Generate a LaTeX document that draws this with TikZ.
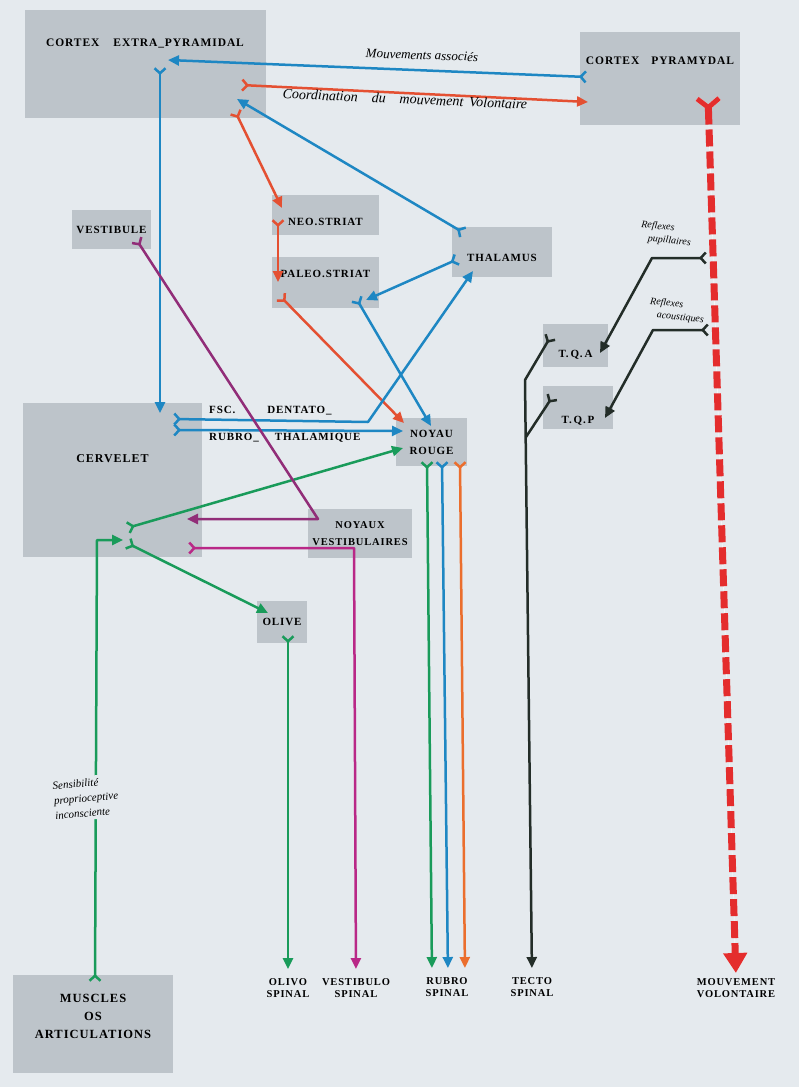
\documentclass[tikz,border=0pt]{standalone}
\usepackage{fontspec}
\setmainfont{Liberation Serif}
\newfontfamily\boxfont[LetterSpace=8]{Liberation Serif}
\usepackage{tikz}
\usetikzlibrary{arrows.meta,calc}

\definecolor{bg}{RGB}{229,234,238}
\definecolor{boxgray}{RGB}{189,196,202}
\definecolor{nblue}{RGB}{30,135,195}
\definecolor{nred}{RGB}{228,80,50}
\definecolor{norange}{RGB}{235,110,45}
\definecolor{ndash}{RGB}{228,45,45}
\definecolor{ngreen}{RGB}{25,155,90}
\definecolor{npurple}{RGB}{145,45,120}
\definecolor{nmagenta}{RGB}{185,40,135}
\definecolor{nblack}{RGB}{35,45,40}

\tikzset{
  box/.style   = {fill=boxgray, inner sep=0pt,
                  font=\boxfont\bfseries\fontsize{11}{13}\selectfont},
  boxm/.style  = {box, align=center, font=\boxfont\bfseries\fontsize{11}{17}\selectfont},
  lbl/.style   = {font=\boxfont\bfseries\fontsize{11}{13}\selectfont, inner sep=1pt},
  foot/.style  = {font=\boxfont\bfseries\fontsize{10.5}{12.5}\selectfont, align=center,
                  inner sep=1pt},
  hand/.style  = {font=\itshape\fontsize{13}{15}\selectfont, inner sep=1pt},
  small/.style = {font=\itshape\fontsize{10}{13}\selectfont, inner sep=1pt,
                  align=left},
  fib/.style   = {line width=2.5pt, line join=round},
  bl/.style    = {fib, draw=nblue},
  rd/.style    = {fib, draw=nred},
  og/.style    = {fib, draw=norange},
  gr/.style    = {fib, draw=ngreen},
  pu/.style    = {fib, draw=npurple},
  mg/.style    = {fib, draw=nmagenta},
  bk/.style    = {fib, draw=nblack},
  dsh/.style   = {draw=ndash, line width=7pt, dash pattern=on 17pt off 5pt,
                  preaction={draw=white, solid}},
  yar/.style   = {{Straight Barb[reversed,length=5pt,width=11pt]}-{Triangle[length=11pt,width=10pt]}},
  yy/.style    = {{Straight Barb[reversed,length=5pt,width=11pt]}-},
  bigy/.style  = {{Straight Barb[reversed,length=9pt,width=22pt,line width=5pt]}-{Triangle[length=20pt,width=23pt]}},
  tofoot/.style= {shorten >=8pt},
}

\begin{document}
\begin{tikzpicture}[x=1pt, y=-1pt]

% --- page ---
\fill[bg] (0,0) rectangle (799,1087);
\useasboundingbox (0,0) rectangle (799,1087);

% --- boxes ---
\node[box, minimum width=241pt, minimum height=108pt, text height=8pt, text depth=44pt,
      font=\boxfont\bfseries\fontsize{11.5}{13}\selectfont]
     (cep) at (145,64) {CORTEX\hspace{14pt}EXTRA\_PYRAMIDAL};
\node[box, minimum width=160pt, minimum height=93pt, text height=8pt, text depth=37pt,
      font=\boxfont\bfseries\fontsize{11.5}{13}\selectfont]
     (cp) at (660,78.5) {CORTEX\hspace{12pt}PYRAMYDAL};
\node[box, minimum width=79pt, minimum height=39pt] (vest) at (111.5,229.5) {VESTIBULE};
\node[box, minimum width=107pt, minimum height=40pt, text height=22pt]
     (neo) at (325.5,215) {NEO.STRIAT};
\node[box, minimum width=107pt, minimum height=51pt, text height=8pt, text depth=19pt]
     (paleo) at (325.5,282.5) {PALEO.STRIAT};
\node[box, minimum width=100pt, minimum height=50pt, text height=20pt]
     (thal) at (502,252) {THALAMUS};
\node[box, minimum width=65pt, minimum height=43pt, text height=25pt]
     (tqa) at (575.5,345.5) {T.\,Q.\,A};
\node[box, minimum width=70pt, minimum height=43pt, text height=33pt]
     (tqp) at (578,407.5) {T.\,Q.\,P};
\node[box, minimum width=179pt, minimum height=154pt, text height=8pt, text depth=44pt,
      font=\boxfont\bfseries\fontsize{12}{13}\selectfont]
     (cerv) at (112.5,480) {CERVELET};
\node[boxm, minimum width=71pt, minimum height=48pt] (nr) at (431.5,442) {NOYAU\\ROUGE};
\node[boxm, minimum width=104pt, minimum height=49pt,
      font=\boxfont\bfseries\fontsize{10.5}{17}\selectfont] (nv) at (360,533.5) {NOYAUX\\VESTIBULAIRES};
\node[box, minimum width=50pt, minimum height=42pt] (olive) at (282,622) {OLIVE};
\node[boxm, minimum width=160pt, minimum height=98pt, text height=44pt, text depth=16pt,
      font=\boxfont\bfseries\fontsize{12.5}{18}\selectfont] (musc) at (93,1024) {MUSCLES\\OS\\ARTICULATIONS};

% --- spinal outputs ---
\node[foot] (olivo)  at (288,988) {OLIVO\\SPINAL};
\node[foot] (vestsp) at (356,988) {VESTIBULO\\SPINAL};
\node[foot] (rubro)  at (447,987) {RUBRO\\SPINAL};
\node[foot] (tecto)  at (532,987) {TECTO\\SPINAL};
\node[foot] (mv)     at (736,988) {MOUVEMENT\\VOLONTAIRE};

% --- fibre ends ---
\coordinate (cep-a1) at (168,60);   \coordinate (cp-t1)  at (587,77);
\coordinate (cep-t2) at (241,85);   \coordinate (cp-a1)  at (588,102);
\coordinate (cep-t1) at (160,67);   \coordinate (cerv-a1) at (160,413);
\coordinate (cep-t3) at (235,111);  \coordinate (neo-a1) at (282,208);
\coordinate (thal-t1) at (464,233); \coordinate (cep-a2) at (237,99);
\coordinate (neo-t1) at (278,219);  \coordinate (paleo-a2) at (278,282);
\coordinate (paleo-t2) at (280,296); \coordinate (nr-a3) at (404,423);
\coordinate (thal-t2) at (458,259); \coordinate (paleo-a1) at (366,300);
\coordinate (paleo-t1) at (356,298); \coordinate (nr-a1) at (431,426);
\coordinate (cerv-t1) at (173,419); \coordinate (dent) at (368,422);
\coordinate (thal-a1) at (473,271);
\coordinate (cerv-t2) at (173,430); \coordinate (nr-a2) at (403,431);
\coordinate (cerv-t3) at (127,528); \coordinate (nr-a4) at (403,448);
\coordinate (cerv-t4) at (127,543); \coordinate (olive-a) at (268,613);
\coordinate (musc-t) at (95,982);   \coordinate (sens-b) at (97,540);
\coordinate (cerv-a2) at (123,540);
\coordinate (olive-t) at (288,635);
\coordinate (vest-t) at (136,239);  \coordinate (nv-c) at (318,519);
\coordinate (cerv-a3) at (187,519);
\coordinate (cerv-t5) at (188,548); \coordinate (nv-d) at (354,548);
\coordinate (nr-t1) at (427,461);   \coordinate (nr-t2) at (442,461);
\coordinate (nr-t3) at (460,461);
\coordinate (cp-t2) at (708,96);
\coordinate (pup-t) at (707,258);   \coordinate (pup-b) at (652,258);
\coordinate (tqa-a) at (600,353);
\coordinate (aco-t) at (709,330);   \coordinate (aco-b) at (653,330);
\coordinate (tqp-a) at (605,418);
\coordinate (tqa-t) at (551,336);   \coordinate (tecto-b) at (525,380);
\coordinate (tqp-t) at (553,396);   \coordinate (tecto-j) at (526,437);

% --- cortex links ---
\draw[bl, yar] (cp-t1) -- (cep-a1);
\draw[rd, yar] (cep-t2) -- (cp-a1);
\draw[dsh, bigy, shorten >=4pt] (cp-t2) -- (mv.north);
\draw[bl, yar] (cep-t1) -- (cerv-a1);

% --- striatum and thalamus ---
\draw[rd, yar] (cep-t3) -- (neo-a1);
\draw[rd, yar] (neo-t1) -- (paleo-a2);
\draw[rd, yar] (paleo-t2) -- (nr-a3);
\draw[bl, yar] (thal-t1) -- (cep-a2);
\draw[bl, yar] (thal-t2) -- (paleo-a1);
\draw[bl, yar] (paleo-t1) -- (nr-a1);

% --- cerebellum outputs ---
\draw[bl, yar] (cerv-t1) -- (dent) -- (thal-a1);
\draw[bl, yar] (cerv-t2) -- (nr-a2);
\draw[gr, yar] (cerv-t3) -- (nr-a4);
\draw[gr, yar] (cerv-t4) -- (olive-a);
\draw[gr, yar] (musc-t) -- (sens-b) -- (cerv-a2);

% --- vestibular ---
\draw[pu, yar] (vest-t) -- (nv-c) -- (cerv-a3);
\draw[mg, yar, tofoot] (cerv-t5) -- (nv-d) -- (vestsp.north);

% --- descending tracts ---
\draw[gr, yar, tofoot] (olive-t) -- (olivo.north);
\draw[gr, yar, tofoot] (nr-t1) -- ([xshift=-15pt]rubro.north);
\draw[bl, yar, tofoot] (nr-t2) -- ([xshift=1pt]rubro.north);
\draw[og, yar, tofoot] (nr-t3) -- ([xshift=18pt]rubro.north);

% --- tectal reflexes ---
\draw[bk, yar] (pup-t) -- (pup-b) -- (tqa-a);
\draw[bk, yar] (aco-t) -- (aco-b) -- (tqp-a);
\draw[bk, yar, tofoot] (tqa-t) -- (tecto-b) -- (tecto.north);
\draw[bk, yy] (tqp-t) -- (tecto-j);

% --- labels ---
\node[hand, rotate=-2] (lmov) at (422,55) {Mouvements\ associés};
\node[hand, rotate=-2.5, font=\itshape\fontsize{14}{16}\selectfont]
     (lcoord) at (405,99) {Coordination\hspace{14pt}du\hspace{14pt}mouvement\hspace{6pt}Volontaire};
\node[small, rotate=-6] (lpup) at (666,234) {Reflexes\\\hspace*{8pt}pupillaires};
\node[small, rotate=-6] (laco) at (677,311) {Reflexes\\\hspace*{8pt}acoustiques};
\node[small, rotate=5, fill=bg, inner sep=3pt, font=\itshape\fontsize{11}{15}\selectfont]
     (lsens) at (86,798) {Sensibilité\\proprioceptive\\inconsciente};
\node[lbl, anchor=west] (lfsc) at (208,411) {FSC.\hspace{32pt}DENTATO\_};
\node[lbl, anchor=west] (lrt) at (208,438) {RUBRO\_\hspace{16pt}THALAMIQUE};
\end{tikzpicture}
\end{document}
